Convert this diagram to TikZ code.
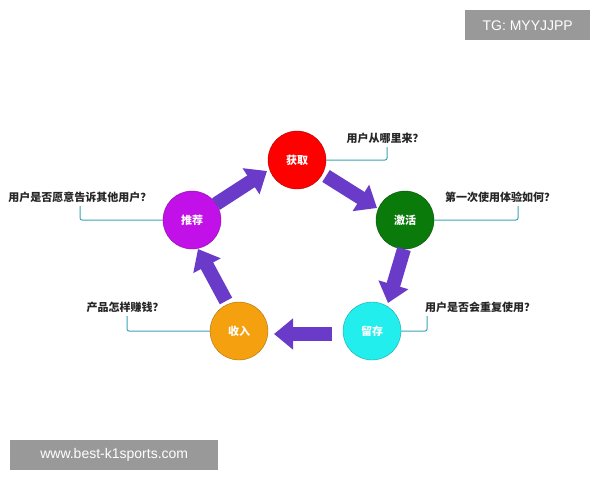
\documentclass[tikz,border=0pt]{standalone}
\usepackage{fontspec}
\usetikzlibrary{arrows.meta}
\newfontfamily\cjk{Noto Sans CJK SC}
\newfontfamily\lsans{Liberation Sans}
\definecolor{arr}{HTML}{6A3BC8}
\definecolor{cl}{HTML}{3AA3B5}
\tikzset{
  stage/.style={circle,minimum size=58pt,inner sep=0pt,draw=#1!70!black,fill=#1,text=white,font=\cjk\bfseries\fontsize{11}{11}\selectfont},
  ask/.style={font=\cjk\bfseries\fontsize{11}{11}\selectfont,text=black!85,inner sep=1pt},
  fat/.style={arr,line width=14pt,-{Triangle[width=30pt,length=19pt]}},
  call/.style={cl,line width=1pt,rounded corners=2pt},
  tag/.style={fill=black!40,text=white,font=\lsans\fontsize{14}{14}\selectfont,inner sep=0pt,anchor=north west}
}
\begin{document}
\begin{tikzpicture}[x=1pt,y=-1pt]
\useasboundingbox (0,0) rectangle (600,480);
\definecolor{c1}{HTML}{FF0000}\definecolor{c2}{HTML}{0A7A0A}\definecolor{c3}{HTML}{22EEEE}\definecolor{c4}{HTML}{F5A00F}\definecolor{c5}{HTML}{C210E8}
\node[stage=c1] (a) at (297,160) {获取};
\node[stage=c2] (b) at (405,220) {激活};
\node[stage=c3] (c) at (372,331) {留存};
\node[stage=c4] (d) at (239,331) {收入};
\node[stage=c5] (e) at (192,220) {推荐};
\coordinate (e1) at (216,204); \coordinate (a0) at (267,171);
\coordinate (a1) at (326,176); \coordinate (b0) at (377,208);
\coordinate (b1) at (404,249); \coordinate (c0) at (388,303);
\coordinate (c1) at (332,334); \coordinate (d0) at (274,334);
\coordinate (d1) at (226,301); \coordinate (e0) at (198,249);
\draw[fat] (e1) -- (a0);
\draw[fat] (a1) -- (b0);
\draw[fat] (b1) -- (c0);
\draw[fat] (c1) -- (d0);
\draw[fat] (d1) -- (e0);
\node[ask] (qa) at (385,138) {用户从哪里来？};
\node[ask] (qb) at (500,197) {第一次使用体验如何？};
\node[ask] (qc) at (480,307) {用户是否会重复使用？};
\node[ask] (qd) at (125,307) {产品怎样赚钱？};
\node[ask] (qe) at (80,197) {用户是否愿意告诉其他用户？};
\draw[call] (a.east) -- (387,160) -- (387,147);
\draw[call] (b.east) -- (518,220) -- (518,206);
\draw[call] (c.east) -- (427,331) -- (427,316);
\draw[call] (d.west) -- (127,331) -- (127,316);
\draw[call] (e.west) -- (80,220) -- (80,206);
\node[tag,minimum width=125pt,minimum height=30pt] (t1) at (465,10) {TG: MYYJJPP};
\node[tag,minimum width=208pt,minimum height=30pt] (t2) at (10,440) {www.best-k1sports.com};
\end{tikzpicture}
\end{document}
